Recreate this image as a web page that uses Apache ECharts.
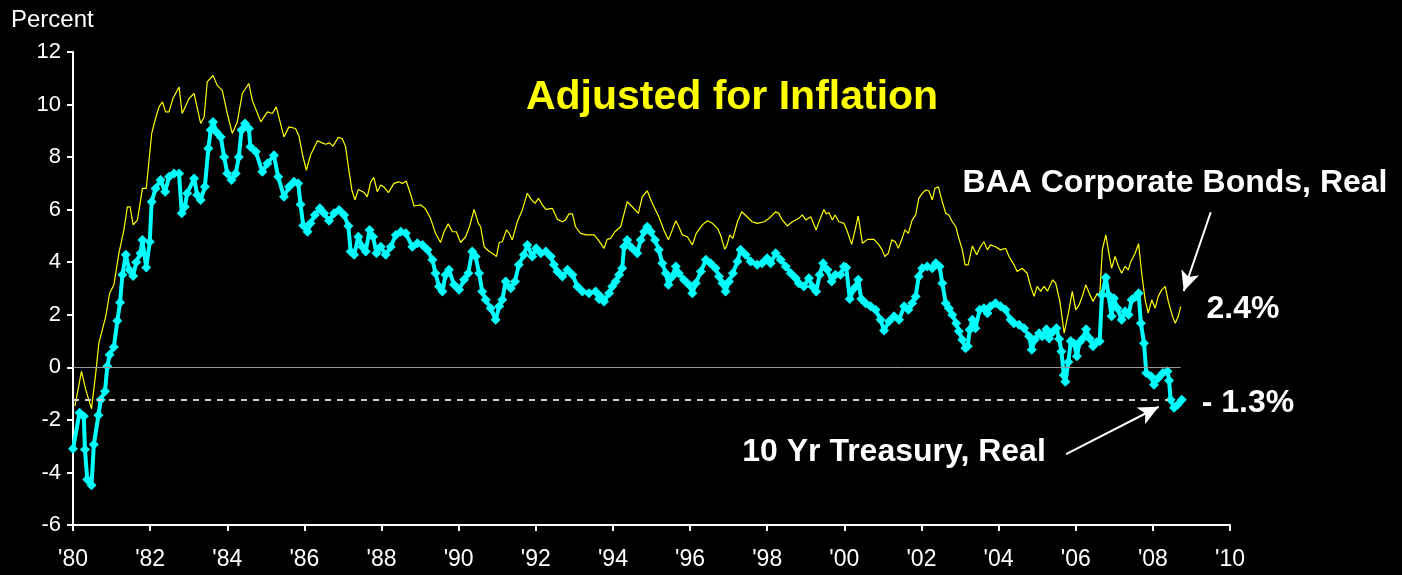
<!DOCTYPE html>
<html>
<head>
<meta charset="utf-8">
<script src="https://cdn.jsdelivr.net/npm/echarts@6/dist/echarts.min.js"></script>
<style>
  html, body { margin: 0; padding: 0; background: #000; }
  #chart { width: 1402px; height: 575px; }
</style>
</head>
<body>
<div id="chart"></div>
<script>
// BAA corporate bonds, real yield (decimal year, percent)
var baaYears = [
  1980.05,1980.22,1980.33,1980.48,1980.59,1980.67,1980.85,1980.95,1981.06,1981.19,1981.32,1981.41,1981.48,1981.56,1981.67,1981.80,1981.90,
  1982.04,1982.14,1982.23,1982.32,1982.40,1982.49,1982.59,1982.75,1982.83,1983.01,1983.14,1983.31,1983.40,1983.48,1983.63,1983.74,1983.87,
  1984.00,1984.13,1984.26,1984.39,1984.56,1984.65,1984.87,1985.04,1985.17,1985.27,1985.47,1985.60,1985.77,1985.86,1985.95,
  1986.05,1986.16,1986.34,1986.46,1986.55,1986.65,1986.74,1986.88,1986.98,1987.07,1987.14,1987.23,1987.31,1987.40,1987.55,1987.63,1987.72,1987.80,1987.89,1987.98,
  1988.07,1988.18,1988.32,1988.45,1988.54,1988.64,1988.76,1988.84,1989.02,1989.13,1989.27,1989.40,1989.53,1989.62,1989.73,1989.84,1989.94,
  1990.05,1990.18,1990.28,1990.40,1990.51,1990.57,1990.66,1990.79,1990.87,1990.98,1991.05,1991.13,1991.24,1991.31,1991.39,1991.52,1991.65,1991.78,1991.89,1991.98,
  1992.07,1992.17,1992.26,1992.43,1992.56,1992.69,1992.77,1992.86,1992.95,1993.03,1993.16,1993.31,1993.42,1993.51,1993.62,1993.77,1993.85,1993.94,
  1994.05,1994.20,1994.29,1994.37,1994.50,1994.66,1994.76,1994.89,1995.02,1995.19,1995.32,1995.44,1995.54,1995.63,1995.71,1995.80,1995.93,
  1996.06,1996.16,1996.32,1996.45,1996.58,1996.71,1996.79,1996.90,1996.96,1997.03,1997.11,1997.23,1997.34,1997.48,1997.61,1997.74,1997.92,
  1998.05,1998.22,1998.30,1998.39,1998.52,1998.65,1998.82,1998.91,1999.00,1999.13,1999.17,1999.27,1999.36,1999.47,1999.53,1999.60,1999.69,1999.76,1999.86,1999.99,
  2000.08,2000.19,2000.28,2000.36,2000.47,2000.60,2000.77,2000.90,2000.98,2001.05,2001.14,2001.23,2001.32,2001.40,2001.50,2001.57,2001.66,2001.76,2001.85,2001.93,
  2002.02,2002.11,2002.19,2002.28,2002.35,2002.44,2002.54,2002.63,2002.71,2002.80,2002.89,2002.97,2003.06,2003.13,2003.21,2003.32,2003.43,2003.53,2003.62,2003.71,2003.79,2003.92,
  2004.05,2004.18,2004.27,2004.40,2004.48,2004.61,2004.74,2004.83,2004.92,2005.00,2005.09,2005.18,2005.27,2005.40,2005.48,2005.59,2005.70,2005.81,2005.91,
  2006.00,2006.09,2006.17,2006.26,2006.35,2006.45,2006.56,2006.62,2006.69,2006.78,2006.86,2006.93,2007.02,2007.11,2007.19,2007.28,2007.36,2007.43,2007.54,2007.63,2007.71,2007.80,2007.88,2007.97,
  2008.06,2008.14,2008.23,2008.32,2008.40,2008.51,2008.58,2008.66,2008.72
];
var baaValues = [
  -1.48,-0.15,-0.85,-1.58,-0.22,0.92,1.94,2.82,3.14,4.34,5.23,6.11,6.11,5.42,5.6,6.81,6.81,
  8.9,9.47,9.91,10.1,9.72,9.72,10.23,10.67,9.66,10.23,10.42,9.28,9.53,10.86,11.11,10.73,10.54,
  9.66,8.9,9.34,10.42,10.8,10.16,9.34,9.72,9.66,9.91,8.77,9.15,9.09,8.8,8.1,
  7.5,8.08,8.62,8.54,8.49,8.54,8.42,8.75,8.71,8.39,7.63,6.75,6.37,6.77,6.65,6.49,7.06,7.23,6.68,6.94,
  6.85,6.65,7.0,7.06,7.0,7.09,6.56,6.14,6.18,6.05,5.67,5.1,4.75,5.16,5.46,5.16,5.16,
  4.75,4.97,5.35,6.01,5.48,5.35,4.59,4.41,4.34,4.22,4.75,4.78,5.23,5.1,4.85,5.54,5.99,6.62,6.37,6.24,
  6.43,6.18,6.01,6.05,5.63,5.54,5.61,5.84,5.84,5.35,5.1,5.04,5.04,5.04,4.85,4.53,4.87,4.91,
  5.16,5.35,5.86,6.3,6.11,5.86,6.49,6.72,6.24,5.73,5.23,4.85,5.23,5.58,5.35,5.04,4.97,
  4.66,5.1,5.42,5.58,5.48,5.29,5.04,4.49,4.66,5.04,4.91,5.54,5.92,5.73,5.54,5.48,5.54,
  5.67,5.92,5.86,5.61,5.38,5.54,5.67,5.8,5.61,5.73,5.8,5.23,5.61,6.01,5.84,5.89,5.61,5.8,5.54,5.48,
  5.16,4.68,5.23,5.76,4.72,4.87,4.87,4.66,4.47,4.22,4.34,4.85,4.78,4.53,4.91,5.23,5.1,5.61,5.8,6.43,
  6.62,6.75,6.72,6.37,6.81,6.87,6.3,5.86,5.8,5.54,5.35,4.91,4.47,3.9,3.9,4.62,4.28,4.59,4.78,4.47,4.66,4.59,
  4.47,4.53,4.22,3.9,3.65,3.77,3.58,3.08,2.7,3.08,2.89,3.08,2.9,3.33,3.2,2.51,1.3,2.06,2.89,
  2.19,2.38,2.7,3.14,2.82,2.51,2.82,2.7,4.47,5.04,4.34,3.77,4.22,3.84,3.58,3.84,3.71,4.03,4.34,4.7,3.58,2.57,2.06,2.57,
  2.25,2.7,2.95,3.08,2.51,1.94,1.68,1.94,2.32
];

// 10 year treasury, real yield (decimal year, percent)
var tsyYears = [
  1980.00,1980.17,1980.28,1980.31,1980.37,1980.48,1980.54,1980.66,1980.72,1980.83,1980.89,1980.95,1981.06,1981.15,1981.22,1981.28,1981.37,1981.46,1981.56,1981.64,1981.75,1981.80,1981.90,1981.99,
  1982.04,1982.14,1982.27,1982.39,1982.49,1982.62,1982.75,1982.82,1982.90,1982.96,1983.14,1983.22,1983.31,1983.42,1983.51,1983.57,1983.63,1983.72,1983.83,1983.92,
  1984.00,1984.11,1984.22,1984.30,1984.37,1984.46,1984.56,1984.60,1984.74,1984.91,1985.04,1985.21,1985.32,1985.47,1985.60,1985.73,1985.84,1985.90,1985.97,
  1986.08,1986.16,1986.27,1986.40,1986.51,1986.64,1986.77,1986.90,1987.03,1987.14,1987.20,1987.29,1987.40,1987.50,1987.59,1987.69,1987.78,1987.87,1987.98,
  1988.11,1988.24,1988.37,1988.50,1988.63,1988.80,1988.93,1989.06,1989.19,1989.32,1989.40,1989.49,1989.58,1989.66,1989.75,1989.88,
  1990.01,1990.14,1990.25,1990.35,1990.44,1990.53,1990.61,1990.70,1990.83,1990.96,1991.05,1991.13,1991.22,1991.35,1991.46,1991.56,1991.69,1991.78,1991.91,
  1992.01,1992.13,1992.26,1992.39,1992.47,1992.56,1992.69,1992.82,1992.95,1993.08,1993.21,1993.38,1993.55,1993.64,1993.68,1993.77,1993.90,1993.98,
  1994.07,1994.16,1994.24,1994.29,1994.37,1994.50,1994.63,1994.72,1994.81,1994.89,1994.98,1995.09,1995.19,1995.28,1995.37,1995.44,1995.54,1995.63,1995.71,1995.84,1995.97,
  1996.06,1996.15,1996.28,1996.41,1996.53,1996.66,1996.75,1996.84,1996.92,1997.01,1997.11,1997.23,1997.31,1997.44,1997.57,1997.74,1997.87,
  1998.00,1998.09,1998.22,1998.35,1998.48,1998.61,1998.74,1998.82,1998.95,1999.08,1999.17,1999.27,1999.36,1999.45,1999.56,1999.67,1999.77,1999.90,1999.99,
  2000.05,2000.14,2000.25,2000.36,2000.44,2000.55,2000.68,2000.81,2000.94,2001.03,2001.16,2001.29,2001.42,2001.55,2001.66,2001.76,2001.85,2001.93,
  2002.02,2002.15,2002.28,2002.37,2002.47,2002.54,2002.63,2002.71,2002.80,2002.90,2002.97,2003.06,2003.14,2003.20,2003.25,2003.32,2003.40,2003.51,2003.62,2003.71,2003.79,2003.92,
  2004.05,2004.18,2004.31,2004.40,2004.53,2004.66,2004.79,2004.86,2004.94,2005.05,2005.13,2005.24,2005.31,2005.41,2005.50,2005.57,2005.63,2005.69,2005.73,2005.81,2005.87,2005.96,
  2006.03,2006.10,2006.19,2006.27,2006.36,2006.45,2006.54,2006.62,2006.68,2006.78,2006.85,2006.93,2006.99,2007.08,2007.19,2007.28,2007.37,2007.45,2007.56,2007.63,2007.69,2007.77,2007.83,2007.95,
  2008.03,2008.14,2008.26,2008.38,2008.42,2008.46,2008.55,2008.64,2008.75
];
var tsyValues = [
  -3.1,-1.73,-1.86,-3.13,-4.27,-4.49,-2.94,-1.82,-1.23,-0.91,0.04,0.48,0.77,1.77,2.47,3.52,4.28,3.7,3.48,4.0,4.34,4.85,3.8,4.78,
  6.3,6.81,7.13,6.68,7.25,7.38,7.38,5.86,6.11,6.62,7.19,6.56,6.37,6.87,8.33,9.03,9.34,8.96,8.77,8.0,
  7.38,7.13,7.38,8.0,9.03,9.28,9.09,8.39,8.2,7.44,7.76,8.07,7.25,6.49,6.87,7.06,7.0,6.2,5.4,
  5.16,5.48,5.8,6.05,5.86,5.58,5.86,5.99,5.8,5.38,4.41,4.28,4.97,4.59,4.41,5.23,4.97,4.34,4.59,
  4.28,4.59,5.04,5.16,5.1,4.59,4.72,4.66,4.47,4.09,3.58,3.08,2.89,3.52,3.71,3.14,
  2.95,3.33,3.58,4.41,4.22,3.58,2.89,2.57,2.25,1.81,2.32,2.57,3.27,3.01,3.27,3.9,4.28,4.66,4.22,
  4.53,4.34,4.41,4.22,3.9,3.65,3.46,3.71,3.52,3.08,2.89,2.82,2.89,2.6,2.7,2.51,2.82,3.08,
  3.27,3.52,3.77,4.59,4.85,4.53,4.34,4.85,5.16,5.35,5.16,4.85,4.47,3.96,3.58,3.14,3.46,3.84,3.58,3.33,3.14,
  2.82,3.2,3.65,4.09,3.96,3.77,3.46,3.2,2.89,3.27,3.58,4.03,4.47,4.28,4.03,3.9,3.96,
  4.15,3.96,4.34,4.09,3.84,3.58,3.39,3.2,3.08,3.39,3.08,2.89,3.52,3.96,3.71,3.27,3.52,3.52,3.84,
  3.8,2.6,3.0,3.33,2.6,2.44,2.32,2.19,1.81,1.4,1.75,1.94,1.81,2.32,2.19,2.44,2.7,3.46,
  3.77,3.84,3.77,3.96,3.84,3.2,2.44,2.25,2.0,1.68,1.37,1.05,0.73,0.8,1.43,1.81,1.49,2.19,2.25,2.06,2.32,2.44,
  2.32,2.19,1.81,1.68,1.62,1.49,1.18,0.67,1.05,1.3,1.18,1.45,1.1,1.35,1.49,1.08,0.6,-0.3,-0.55,0.2,1.0,0.9,
  0.42,0.95,1.11,1.45,1.1,0.8,0.95,0.99,2.75,3.42,2.76,1.94,2.63,2.25,1.81,2.13,2.0,2.57,2.7,2.82,1.68,0.92,-0.22,-0.34,
  -0.66,-0.41,-0.22,-0.15,-0.5,-1.23,-1.54,-1.42,-1.23
];

var yTicks = { min: -6, max: 12, step: 2 };
var xTicks = { min: 1980, max: 2010, step: 2 };
var lastTsy = -1.25;   // dashed reference level (- 1.3%)
var endYear = 2008.72;

var font = "'Liberation Sans', Arial, sans-serif";

function pairs(xs, ys) {
    return xs.map(function (x, i) { return [x, ys[i]]; });
}

var chart = echarts.init(document.getElementById('chart'));

var option = {
    backgroundColor: '#000',
    animation: false,
    grid: { left: 73, right: 172, top: 52, bottom: 50 },
    xAxis: {
        type: 'value',
        min: xTicks.min,
        max: xTicks.max,
        interval: xTicks.step,
        axisLine: { onZero: false, lineStyle: { color: '#fff', width: 2 } },
        axisTick: { inside: false, length: 6, lineStyle: { color: '#fff', width: 2 } },
        splitLine: { show: false },
        axisLabel: {
            color: '#fff', fontSize: 23, fontFamily: font, margin: 23,
            formatter: function (v) { return "'" + String(v).slice(2); }
        }
    },
    yAxis: {
        type: 'value',
        min: yTicks.min,
        max: yTicks.max,
        interval: yTicks.step,
        axisLine: { show: true, onZero: false, lineStyle: { color: '#fff', width: 2 } },
        axisTick: { show: true, inside: false, length: 6, lineStyle: { color: '#fff', width: 2 } },
        splitLine: { show: false },
        axisLabel: { color: '#fff', fontSize: 22, fontFamily: font, margin: 12 }
    },
    series: [
        {
            name: 'BAA Corporate Bonds, Real',
            type: 'line',
            data: pairs(baaYears, baaValues),
            showSymbol: false,
            symbol: 'none',
            lineStyle: { color: '#ffff00', width: 1.2 },
            itemStyle: { color: '#ffff00' },
            z: 3,
            markLine: {
                silent: true,
                symbol: ['none', 'none'],
                label: { show: false },
                data: [
                    [{ coord: [xTicks.min, 0], lineStyle: { color: '#9a9a9a', width: 1, type: 'solid' } },
                     { coord: [endYear, 0] }],
                    [{ coord: [xTicks.min, lastTsy], lineStyle: { color: '#d0d0d0', width: 2, type: [6, 6] } },
                     { coord: [2008.4, lastTsy] }],
                    [{ coord: [2009.5, 5.9], lineStyle: { color: '#fff', width: 2, type: 'solid' } },
                     { coord: [2008.8, 2.9], symbol: 'arrow', symbolSize: [14, 20] }],
                    [{ coord: [2005.75, -3.3], lineStyle: { color: '#fff', width: 2, type: 'solid' } },
                     { coord: [2008.15, -1.5], symbol: 'arrow', symbolSize: [14, 20] }]
                ]
            }
        },
        {
            name: '10 Yr Treasury, Real',
            type: 'line',
            data: pairs(tsyYears, tsyValues),
            symbol: 'diamond',
            symbolSize: 10,
            showSymbol: true,
            lineStyle: { color: '#00ffff', width: 4 },
            itemStyle: { color: '#00ffff' },
            z: 4
        }
    ],
    graphic: [
        { type: 'text', left: 11, top: 8,
          style: { text: 'Percent', fill: '#fff', font: '24px ' + font } },
        { type: 'text', x: 732, y: 98,
          style: { text: 'Adjusted for Inflation', fill: '#ffff00', font: 'bold 41px ' + font,
                   textAlign: 'center', textVerticalAlign: 'middle' } },
        { type: 'text', x: 1175, y: 183,
          style: { text: 'BAA Corporate Bonds, Real', fill: '#fff', font: 'bold 32px ' + font,
                   textAlign: 'center', textVerticalAlign: 'middle' } },
        { type: 'text', x: 1243, y: 309,
          style: { text: '2.4%', fill: '#fff', font: 'bold 32px ' + font,
                   textAlign: 'center', textVerticalAlign: 'middle' } },
        { type: 'text', x: 1248, y: 403,
          style: { text: '- 1.3%', fill: '#fff', font: 'bold 32px ' + font,
                   textAlign: 'center', textVerticalAlign: 'middle' } },
        { type: 'text', x: 894, y: 452,
          style: { text: '10 Yr Treasury, Real', fill: '#fff', font: 'bold 32px ' + font,
                   textAlign: 'center', textVerticalAlign: 'middle' } }
    ]
};

chart.setOption(option);
</script>
</body>
</html>
